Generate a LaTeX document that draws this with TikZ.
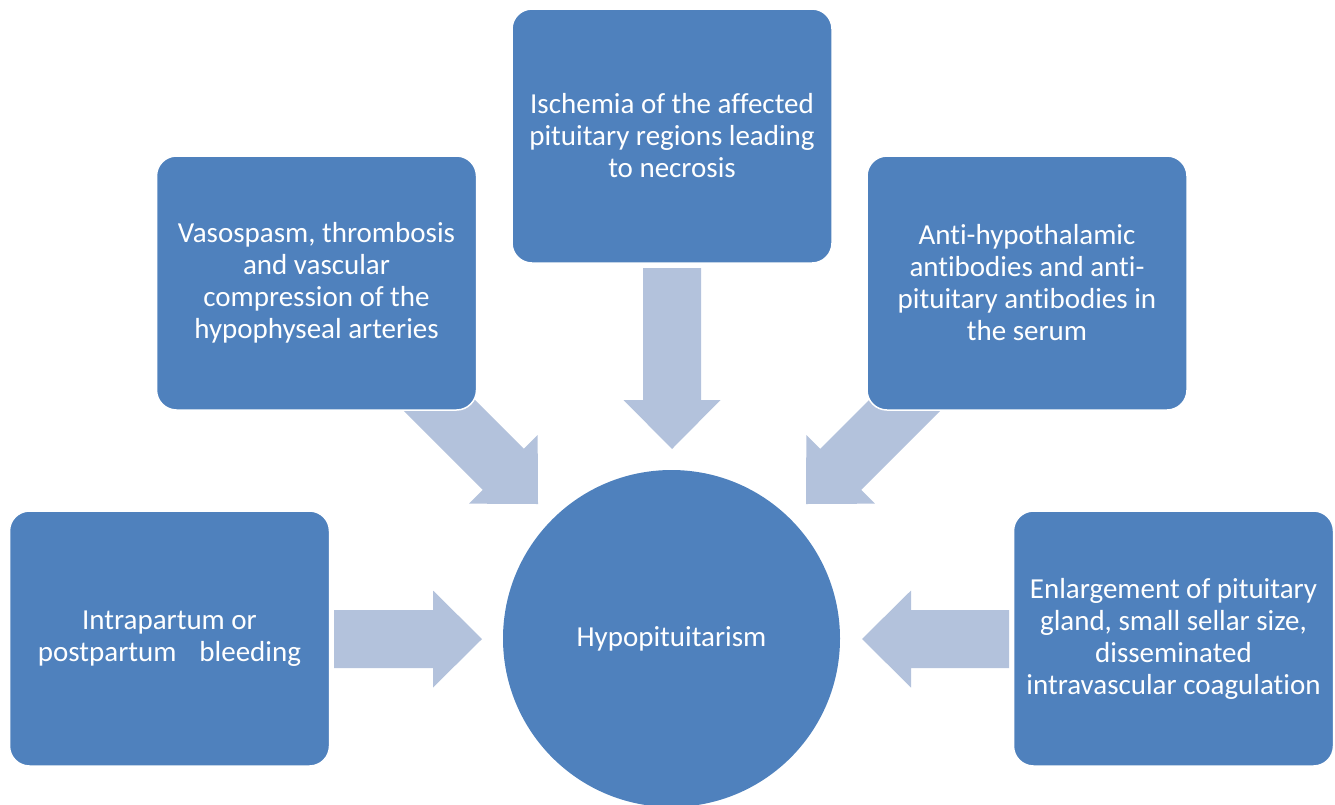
\documentclass[tikz,border=0pt]{standalone}
\usepackage{fontspec}
\setmainfont{Carlito}[Ligatures=NoCommon]
\usetikzlibrary{calc}
\definecolor{boxblue}{HTML}{4F81BD}
\definecolor{arrowblue}{HTML}{B3C2DC}
\newcommand{\blockarr}[2]{%
  \coordinate (neck) at ($(#2)!49pt!(#1)$);
  \fill[arrowblue] ($(#1)!29pt!90:(#2)$) -- ($(neck)!29pt!90:(#2)$) -- ($(neck)!48.5pt!90:(#2)$) -- (#2)
    -- ($(neck)!48.5pt!-90:(#2)$) -- ($(neck)!29pt!-90:(#2)$) -- ($(#1)!29pt!-90:(#2)$) -- cycle;}
\tikzset{
  causebox/.style={rectangle, rounded corners=20pt, fill=boxblue, draw=white, line width=1.5pt,
    minimum width=320pt, minimum height=255pt, inner sep=0pt, align=center, text=white,
    font=\fontsize{29pt}{32pt}\selectfont},
  centre/.style={circle, fill=boxblue, minimum size=337pt, inner sep=0pt, align=center, text=white,
    font=\fontsize{29pt}{32pt}\selectfont}
}
\begin{document}
\begin{tikzpicture}[x=1pt,y=-1pt]
\useasboundingbox (0,0) rectangle (1335,804);
% arrows
\coordinate (aLs) at (334,639);  \coordinate (aLt) at (482,639);
\coordinate (aRs) at (1009,639); \coordinate (aRt) at (862,639);
\coordinate (aTs) at (672,268);  \coordinate (aTt) at (672,449);
\coordinate (aULs) at (418,384); \coordinate (aULt) at (538,504);
\coordinate (aURs) at (926,384); \coordinate (aURt) at (806,504);
\blockarr{aLs}{aLt}
\blockarr{aRs}{aRt}
\blockarr{aTs}{aTt}
\blockarr{aULs}{aULt}
\blockarr{aURs}{aURt}
% boxes
\node[causebox] (left) at (169.5,638.5) {Intrapartum or\\postpartum\hspace{23pt}bleeding};
\node[causebox] (right) at (1173.5,638.5) {Enlargement of pituitary\\gland, small sellar size,\\disseminated\\intravascular coagulation};
\node[causebox, minimum height=254pt] (top) at (672,136) {Ischemia of the affected\\pituitary regions leading\\to necrosis};
\node[causebox, minimum height=254pt] (ul) at (316.5,283) {Vasospasm, thrombosis\\and vascular\\compression of the\\hypophyseal arteries};
\node[causebox, minimum height=254pt] (ur) at (1027,283) {Anti-hypothalamic\\antibodies and anti-\\pituitary antibodies in\\the serum};
\node[centre] (hypo) at (671.5,638.5) {Hypopituitarism};
\end{tikzpicture}
\end{document}
